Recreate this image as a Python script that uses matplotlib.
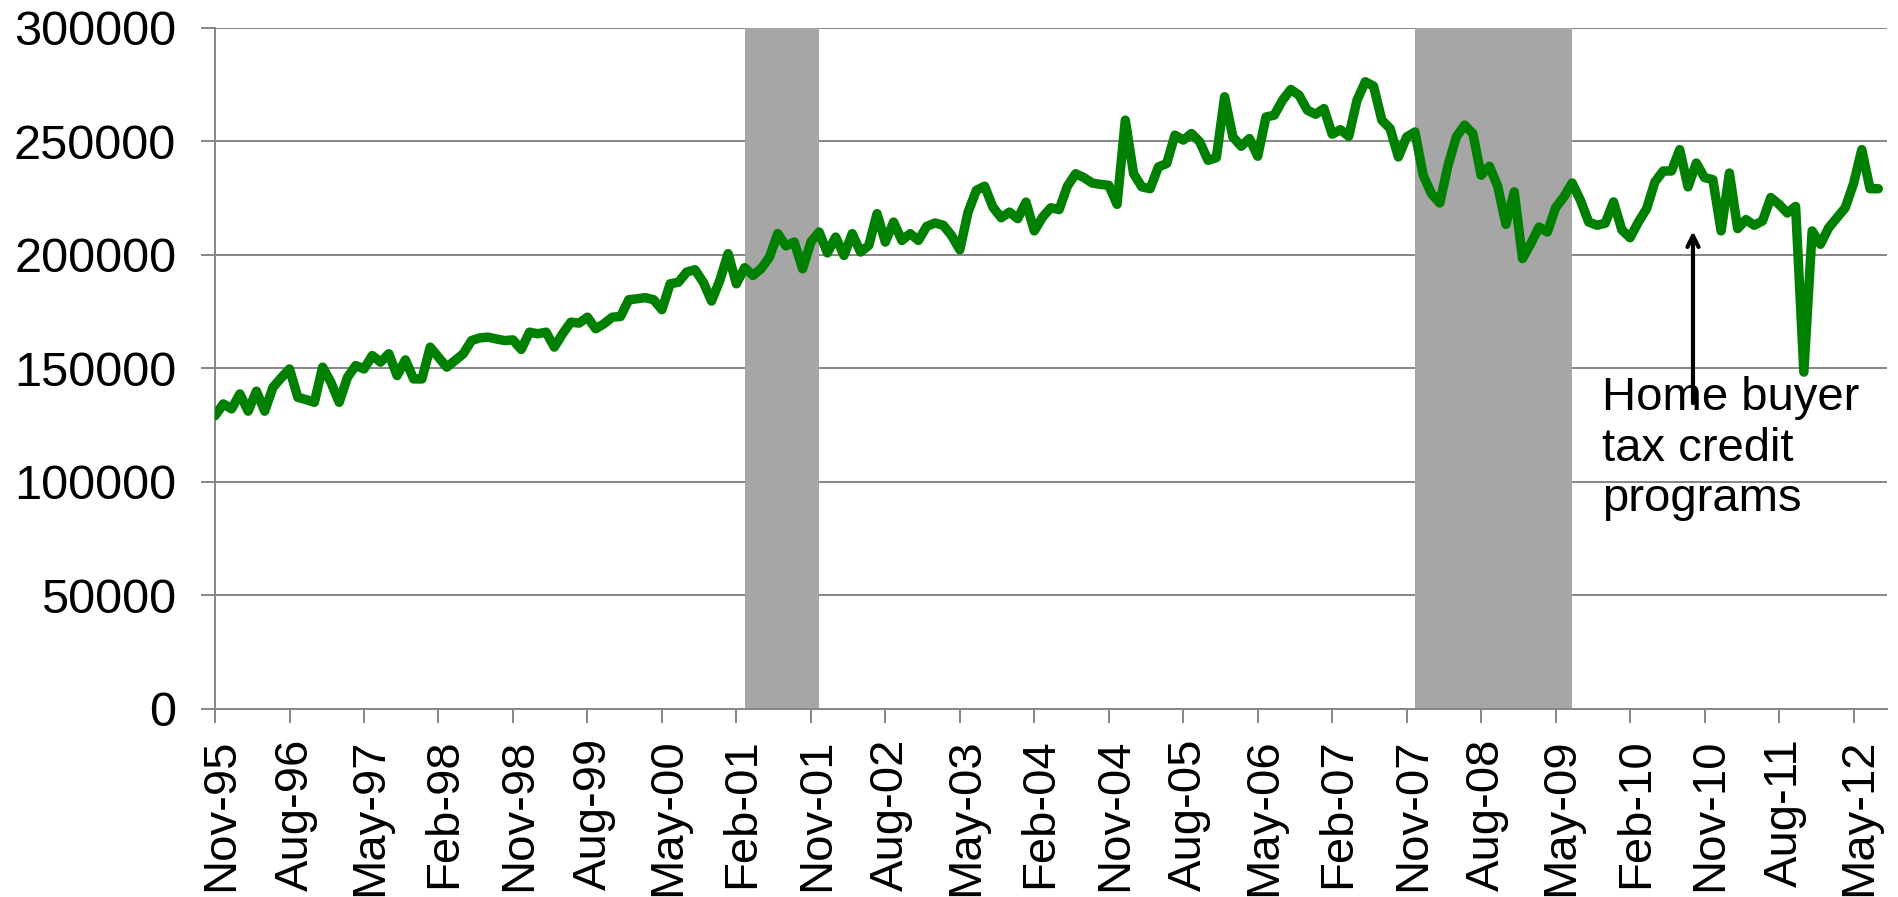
# Monthly series, Nov-95 to Aug-12, with recession bands

import matplotlib
matplotlib.use("Agg")
import matplotlib.pyplot as plt
from matplotlib.transforms import ScaledTranslation
import numpy as np

plt.rcParams['font.family'] = ['Liberation Sans', 'DejaVu Sans']

# values, one per month starting Nov-95
sales = [
    129200, 134400, 132200, 138800, 131200, 140000, 131200, 141700, 145900, 149800,
    137300, 136300, 135100, 150600, 143900, 135100, 146100, 151300, 149800, 155700,
    152800, 156500, 146900, 153800, 145400, 145400, 159400, 155000, 150600, 153500,
    156500, 162300, 163500, 163800, 163000, 162300, 162600, 158400, 166000, 165300,
    166000, 159400, 165300, 170400, 170000, 172600, 167500, 169700, 172600, 172900,
    180300, 180700, 181200, 180300, 175900, 187300, 188000, 192500, 193500, 188000,
    179700, 188800, 200600, 187300, 194400, 191000, 194000, 199100, 209400, 204000,
    205700, 193900, 205700, 210100, 200900, 207900, 199800, 209400, 201300, 204200,
    218200, 205700, 214500, 206400, 209400, 206400, 212600, 214100, 213100, 208600,
    202300, 218900, 228500, 230300, 221100, 216400, 218900, 216000, 223300, 210600,
    216700, 220800, 220000, 230300, 235800, 234100, 231700, 231100, 230700, 222300,
    259400, 235800, 230000, 229200, 238800, 240300, 252800, 250600, 253500, 249800,
    241700, 242900, 269700, 252000, 247900, 251300, 243500, 260800, 261600, 268200,
    272900, 270400, 263800, 262000, 264500, 253200, 255200, 252300, 268200, 276300,
    274400, 259400, 255700, 243200, 252000, 254200, 235100, 227000, 222900, 239500,
    252000, 257200, 253500, 235100, 239100, 230300, 213500, 227800, 198400, 205000,
    212300, 210100, 220800, 225600, 231700, 224100, 214500, 213100, 214000, 223400,
    211100, 207600, 214500, 220400, 232200, 237000, 237000, 246400, 230000, 240500,
    234100, 233200, 210600, 236100, 211600, 215600, 213100, 215000, 225300, 222300,
    218500, 221400, 148400, 210600, 204700, 212000, 216400, 220800, 231400, 246400,
    229200, 229200,
]

tick_labels = ["Nov-95", "Aug-96", "May-97", "Feb-98", "Nov-98", "Aug-99", "May-00",
               "Feb-01", "Nov-01", "Aug-02", "May-03", "Feb-04", "Nov-04", "Aug-05",
               "May-06", "Feb-07", "Nov-07", "Aug-08", "May-09", "Feb-10", "Nov-10",
               "Aug-11", "May-12"]

# recession months as month index (first month, last month)
recession_start = [64, 145]   # Mar-01, Dec-07
recession_end = [72, 163]     # Nov-01, Jun-09

y_ticks = [0, 50000, 100000, 150000, 200000, 250000, 300000]

months = np.arange(len(sales))

fig = plt.figure(figsize=(18.98, 8.97), dpi=100)
ax = fig.add_axes([0.1133, 0.2096, 0.8807, 0.9688 - 0.2096])

ax.set_axisbelow(True)
ax.yaxis.grid(True, color='#868686', linewidth=1.4, zorder=0)

for s, e in zip(recession_start, recession_end):
    ax.axvspan(s, e + 1, color='#a6a6a6', linewidth=0, zorder=1)

ax.plot(months, sales, color='#008000', linewidth=6.8, solid_joinstyle='round',
        solid_capstyle='round', zorder=3)

ax.set_xlim(0, 202)
ax.set_ylim(0, 300000)
ax.set_yticks(y_ticks)
ax.set_yticklabels([str(v) for v in y_ticks])
ax.set_xticks(np.arange(0, len(tick_labels) * 9, 9))
ax.set_xticklabels(tick_labels, rotation=90)

for side in ['top', 'right']:
    ax.spines[side].set_visible(False)
for side in ['left', 'bottom']:
    ax.spines[side].set_color('#868686')
    ax.spines[side].set_linewidth(1.4)

ax.tick_params(axis='both', colors='#868686', labelcolor='black',
               length=10, width=1.4)
ax.tick_params(axis='y', pad=18, labelsize=35)
ax.tick_params(axis='x', pad=11, labelsize=34)

# nudge the rotated labels a little right, like the original
for lab in ax.get_xticklabels():
    lab.set_transform(lab.get_transform() + ScaledTranslation(6 / 100, 0, fig.dpi_scale_trans))

ax.annotate('', xy=(178.6, 211700), xytext=(178.6, 133500),
            arrowprops=dict(arrowstyle='->,head_length=0.8,head_width=0.4', color='black', lw=3),
            zorder=4)
ax.text(167.6, 146800, 'Home buyer\ntax credit\nprograms', fontsize=34, va='top', ha='left',
        zorder=5)

fig.savefig('out.png', dpi=100)
